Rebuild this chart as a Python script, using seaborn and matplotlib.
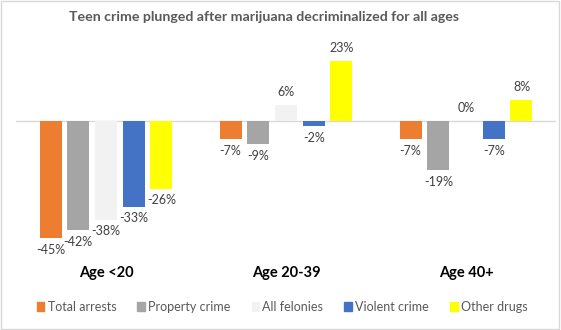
import matplotlib
matplotlib.use("Agg")
import matplotlib.pyplot as plt
from matplotlib.patches import Rectangle
import seaborn as sns
import pandas as pd

# Chart data
age_groups = ["Age <20", "Age 20-39", "Age 40+"]
series = ["Total arrests", "Property crime", "All felonies", "Violent crime", "Other drugs"]
total_arrests = [-45, -7, -7]
property_crime = [-42, -9, -19]
all_felonies = [-38, 6, 0]
violent_crime = [-33, -2, -7]
other_drugs = [-26, 23, 8]
colors = ["#ED7D31", "#A5A5A5", "#F2F2F2", "#4472C4", "#FFFF00"]

values = [total_arrests, property_crime, all_felonies, violent_crime, other_drugs]
rows = []
for name, vals in zip(series, values):
    for grp, v in zip(age_groups, vals):
        rows.append({"group": grp, "series": name, "value": v})
df = pd.DataFrame(rows)

sns.set_theme(style="white")
plt.rcParams["font.family"] = ["Lato", "DejaVu Sans"]

fig = plt.figure(figsize=(5.61, 3.30), dpi=100)
ax = fig.add_axes([16 / 561, 1 - 250 / 330, 540 / 561, 200 / 330])

sns.barplot(data=df, x="group", y="value", hue="series", order=age_groups,
            hue_order=series, palette=colors, width=0.77, gap=0.21,
            saturation=1, linewidth=0, ax=ax, legend=False)

ax.set_xlim(-0.5, 2.5)
ax.set_ylim(-49.6, 27.3)
ax.axhline(0, color="#D9D9D9", lw=1, zorder=0)
for s in ax.spines.values():
    s.set_visible(False)
ax.set_yticks([])
ax.set_xticks([])
ax.set_xlabel("")
ax.set_ylabel("")

# Value labels
for container in ax.containers:
    for bar in container:
        h = bar.get_height()
        xc = bar.get_x() + bar.get_width() / 2
        if h >= 0:
            ax.annotate(f"{h:.0f}%", (xc, h), xytext=(0, 5), textcoords="offset points",
                        ha="center", va="bottom", fontsize=9, color="#404040")
        else:
            ax.annotate(f"{h:.0f}%", (xc, h), xytext=(0, -4), textcoords="offset points",
                        ha="center", va="top", fontsize=9, color="#404040")

# Category labels
for i, grp in enumerate(age_groups):
    ax.text(i, -58.5, grp, ha="center", va="center", fontsize=10.5,
            fontweight="bold", color="black", clip_on=False)

fig.suptitle("Teen crime plunged after marijuana decriminalized for all ages",
             x=0.47, y=1 - 17 / 330, va="center", fontsize=10.2, fontweight="bold",
             color="#595959")

handles = [Rectangle((0, 0), 1, 1, color=c) for c in colors]
fig.legend(handles, series, loc="center", bbox_to_anchor=(0.503, 1 - 307 / 330),
           ncol=5, frameon=False, fontsize=9, labelcolor="#595959",
           handlelength=0.6, handleheight=0.7, handletextpad=0.25, columnspacing=1.7)

fig.patches.append(Rectangle((0.002, 0.003), 0.994, 0.994, transform=fig.transFigure,
                             fill=False, edgecolor="#D9D9D9", lw=1))

fig.savefig("out.png", dpi=100, facecolor="white")
